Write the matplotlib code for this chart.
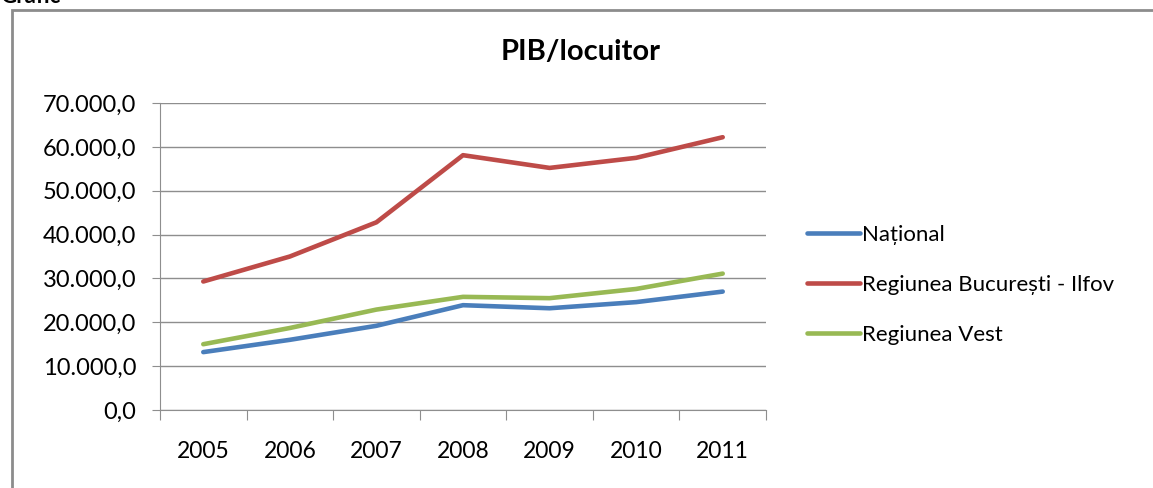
import matplotlib
matplotlib.use("Agg")
import matplotlib.pyplot as plt
from matplotlib.patches import Rectangle
from matplotlib.ticker import FuncFormatter, FixedLocator

# Data
years = ["2005", "2006", "2007", "2008", "2009", "2010", "2011"]
national = [13200, 16000, 19200, 23900, 23200, 24600, 27000]
bucuresti = [29300, 35000, 42800, 58100, 55200, 57500, 62200]
vest = [15000, 18700, 22900, 25800, 25500, 27600, 31100]
series_names = ["Național", "Regiunea București - Ilfov", "Regiunea Vest"]
colors = ["#4A7EBB", "#BE4B48", "#98B954"]

plt.rcParams['font.family'] = ['Lato', 'DejaVu Sans']

W, H = 1153, 488
fig = plt.figure(figsize=(W / 100, H / 100), dpi=100)

# outer chart frame (cut off at right and bottom)
fig.patches.append(Rectangle((12 / W, -0.1), 1.2, (H - 10) / H + 0.1,
                             transform=fig.transFigure, fill=False,
                             edgecolor="#8c8c8c", linewidth=2))
fig.text(0.0, (H - 3) / H, "Grafic", fontsize=16, fontweight="bold",
         va="baseline", ha="left")

ax = fig.add_axes([160 / W, 1 - 410 / H, 606 / W, 307 / H])

x = list(range(len(years)))
for vals, name, c in zip([national, bucuresti, vest], series_names, colors):
    ax.plot(x, vals, color=c, linewidth=3.3, label=name, solid_capstyle="round")

ax.set_xlim(-0.5, len(years) - 0.5)
ax.set_ylim(0, 70000)
ax.set_yticks(range(0, 70001, 10000))
ax.yaxis.set_major_formatter(FuncFormatter(
    lambda v, p: f"{v:,.1f}".replace(",", "X").replace(".", ",").replace("X", ".")))
ax.grid(axis="y", color="#8e8e8e", linewidth=1)
ax.set_axisbelow(True)

# ticks at category boundaries, labels at centers
ax.xaxis.set_major_locator(FixedLocator([i - 0.5 for i in range(len(years) + 1)]))
ax.xaxis.set_major_formatter(FuncFormatter(lambda v, p: ""))
ax.xaxis.set_minor_locator(FixedLocator(x))
ax.set_xticklabels(years, minor=True)
ax.tick_params(axis="x", which="major", length=7, color="#8e8e8e", direction="out")
ax.tick_params(axis="x", which="minor", length=0, pad=22, labelsize=16.5)
ax.tick_params(axis="y", length=6, color="#8e8e8e", pad=11, labelsize=17)

for s in ["top", "right"]:
    ax.spines[s].set_visible(False)
for s in ["left", "bottom"]:
    ax.spines[s].set_color("#8e8e8e")

fig.text(581 / W, 1 - 52 / H, "PIB/locuitor", fontsize=21, fontweight="bold",
         ha="center", va="center")

fig.legend(loc="center left", bbox_to_anchor=(798 / W, 1 - 285 / H),
           frameon=False, fontsize=16, handlelength=2.4, handletextpad=0.1,
           labelspacing=1.35, borderaxespad=0)

fig.savefig("out.png", dpi=100)
